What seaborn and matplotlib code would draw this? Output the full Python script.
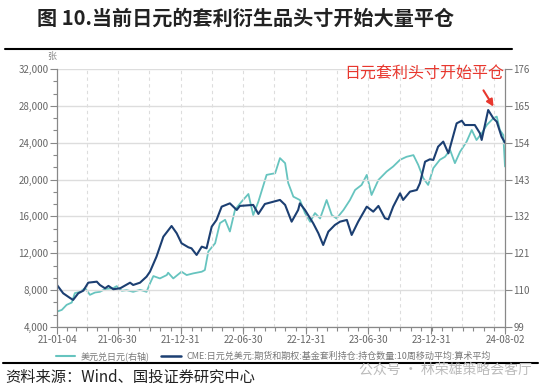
import pandas as pd
import seaborn as sns
import matplotlib.pyplot as plt
import matplotlib.dates as mdates
from matplotlib.lines import Line2D
from matplotlib.ticker import FuncFormatter, MultipleLocator, AutoMinorLocator

# USD/JPY (right axis)
usdjpy_dates = ['2021-01-04', '2021-01-18', '2021-02-01', '2021-02-16', '2021-02-25', '2021-03-12',
                '2021-03-27', '2021-04-10', '2021-04-25', '2021-05-09', '2021-05-24', '2021-06-17',
                '2021-06-27', '2021-07-12', '2021-07-26', '2021-08-14', '2021-09-03', '2021-09-22',
                '2021-10-02', '2021-10-12', '2021-10-31', '2021-11-20', '2021-11-24', '2021-12-09',
                '2022-01-02', '2022-01-17', '2022-02-05', '2022-03-02', '2022-03-11', '2022-03-21',
                '2022-04-10', '2022-04-24', '2022-05-09', '2022-05-23', '2022-06-07', '2022-06-26',
                '2022-07-16', '2022-07-30', '2022-08-14', '2022-09-07', '2022-10-02', '2022-10-16',
                '2022-10-31', '2022-11-09', '2022-11-24', '2022-12-13', '2022-12-28',
                '2023-01-12', '2023-01-26', '2023-02-10', '2023-03-01', '2023-03-16', '2023-03-30',
                '2023-04-19', '2023-05-08', '2023-05-23', '2023-06-11', '2023-06-26', '2023-07-10',
                '2023-07-30', '2023-08-23', '2023-09-11', '2023-10-01', '2023-10-20', '2023-11-09',
                '2023-11-23', '2023-12-08', '2023-12-22',
                '2024-01-06', '2024-01-25', '2024-02-09', '2024-02-24', '2024-03-09', '2024-03-24',
                '2024-04-12', '2024-04-27', '2024-05-11', '2024-05-26', '2024-06-10', '2024-06-29',
                '2024-07-09', '2024-07-18', '2024-07-28', '2024-08-02']
usdjpy = [103.6, 104.1, 105.6, 106.3, 109.1, 109.5, 110.6, 108.6, 109.3, 109.5, 110.3, 110.6,
          111.2, 109.8, 110.0, 109.5, 110.1, 109.5, 112.0, 114.2, 113.5, 114.5, 115.2, 113.5,
          115.5, 114.5, 115.0, 115.5, 116.0, 121.5, 124.0, 130.0, 131.0, 127.5, 134.0, 136.4,
          138.7, 132.4, 136.4, 144.4, 144.9, 149.4, 147.9, 142.0, 137.9, 136.9, 133.0,
          130.4, 133.0, 131.4, 136.9, 132.4, 131.4, 133.9, 136.9, 139.9, 141.4, 144.4, 138.4,
          142.9, 145.4, 146.9, 148.9, 149.8, 150.3, 147.4, 143.4, 141.4,
          146.4, 148.9, 149.8, 151.8, 147.9, 151.3, 154.3, 157.8, 154.8, 156.8, 159.3, 161.3,
          161.8, 157.8, 156.3, 146.9]

# CME yen carry positions, 10-week moving average (left axis, contracts)
cme_dates = ['2021-01-04', '2021-01-22', '2021-02-11', '2021-02-20', '2021-03-07', '2021-03-22',
             '2021-04-05', '2021-04-30', '2021-05-09', '2021-05-24', '2021-06-03', '2021-06-17',
             '2021-07-07', '2021-08-05', '2021-08-14', '2021-09-03', '2021-09-22', '2021-10-02',
             '2021-10-21', '2021-11-10', '2021-12-04', '2021-12-19',
             '2022-01-02', '2022-01-22', '2022-01-31', '2022-02-15', '2022-03-02', '2022-03-16',
             '2022-03-31', '2022-04-14', '2022-04-29', '2022-05-23', '2022-06-12', '2022-06-21',
             '2022-07-30', '2022-08-14', '2022-09-02', '2022-10-16', '2022-10-31', '2022-11-19',
             '2022-12-08', '2022-12-13', '2022-12-28',
             '2023-01-21', '2023-02-05', '2023-02-19', '2023-03-06', '2023-03-25', '2023-04-09',
             '2023-04-29', '2023-05-13', '2023-06-01', '2023-06-26', '2023-07-15', '2023-07-30',
             '2023-08-18', '2023-08-28', '2023-09-11', '2023-10-01', '2023-10-10', '2023-10-30',
             '2023-11-19', '2023-11-28', '2023-12-13', '2023-12-27',
             '2024-01-06', '2024-01-20', '2024-02-04', '2024-02-19', '2024-03-14', '2024-03-29',
             '2024-04-07', '2024-05-06', '2024-05-21', '2024-05-26', '2024-06-14', '2024-06-29',
             '2024-07-09', '2024-07-23', '2024-08-02']
cme = [8560, 7660, 7150, 6940, 7660, 7950, 8810, 8920, 8560, 8200, 8460, 8100,
       8200, 8810, 8560, 8810, 9460, 10000, 11630, 13800, 14960, 14170,
       13090, 12650, 12540, 11820, 12720, 12540, 14890, 15620, 17060, 17420, 16700, 17140,
       17250, 16270, 17350, 17790, 17250, 15430, 16700, 17420, 16700,
       15250, 14170, 12900, 14350, 15070, 15430, 15620, 13990, 15430, 17060, 16520, 17140,
       15800, 15690, 17060, 18510, 17790, 18690, 18870, 19600, 21940, 22200,
       22130, 23570, 24120, 22850, 26100, 26390, 25920, 25920, 25020, 24300, 27550, 26650,
       26280, 24650, 24000]

tick_dates = ['2021-01-04', '2021-06-30', '2021-12-31', '2022-06-30', '2022-12-31',
              '2023-06-30', '2023-12-31', '2024-08-02']

usdjpy_label = '美元兑日元(右轴)'
cme_label = 'CME:日元兑美元:期货和期权:基金套利持仓:持仓数量:10周移动平均:算术平均'

sns.set_style('white')
plt.rcParams['font.family'] = ['Noto Sans CJK SC', 'DejaVu Sans']

df_jpy = pd.DataFrame({'date': pd.to_datetime(usdjpy_dates), 'value': usdjpy})
df_cme = pd.DataFrame({'date': pd.to_datetime(cme_dates), 'value': cme})

teal = '#66c4bf'
navy = '#1c3f72'
tick_col = '#666666'
grid_col = '#dddddd'

fig = plt.figure(figsize=(5.5, 3.9), dpi=100)
ax = fig.add_axes([57 / 550, 1 - 327 / 390, 448 / 550, 258 / 390])
ax2 = ax.twinx()

sns.lineplot(data=df_jpy, x='date', y='value', ax=ax2, color=teal, linewidth=1.3, legend=False)
sns.lineplot(data=df_cme, x='date', y='value', ax=ax, color=navy, linewidth=1.5, legend=False)

# navy on top of teal
ax.set_zorder(ax2.get_zorder() + 1)
ax.patch.set_visible(False)

start, end = pd.Timestamp(tick_dates[0]), pd.Timestamp(tick_dates[-1])
ax.set_xlim(start, end)
ax.set_ylim(4000, 32000)
ax2.set_ylim(99, 176)

# grid: solid horizontal, dashed vertical at quarter ends
for v in range(4000, 32001, 4000):
    ax.axhline(v, color=grid_col, lw=1, zorder=0)
for q in pd.date_range('2021-03-31', '2024-06-30', freq='QE'):
    ax.axvline(q, color=grid_col, lw=0.8, ls=(0, (3, 3)), zorder=0)

ax.set_xticks(pd.to_datetime(tick_dates))
ax.xaxis.set_major_formatter(mdates.DateFormatter('%y-%m-%d'))
ax.xaxis.set_minor_locator(mdates.MonthLocator())
ax.yaxis.set_major_locator(MultipleLocator(4000))
ax.yaxis.set_minor_locator(AutoMinorLocator(3))
ax.yaxis.set_major_formatter(FuncFormatter(lambda v, p: f'{int(v):,}'))
ax2.set_yticks(range(99, 177, 11))

for a in (ax, ax2):
    a.set_xlabel('')
    a.set_ylabel('')
    a.tick_params(which='major', direction='out', length=5, width=0.8, color='#888888',
                  labelsize=7, labelcolor=tick_col, pad=1)
    a.tick_params(which='minor', direction='out', length=3, width=0.8, color='#888888')
    for s in a.spines.values():
        s.set_visible(False)
ax.tick_params(axis='x', which='both', bottom=True)
ax.tick_params(axis='y', which='both', left=True)
ax2.tick_params(axis='y', which='both', right=True)
ax.spines['left'].set_visible(True)
ax.spines['bottom'].set_visible(True)
ax2.spines['right'].set_visible(True)
for s in (ax.spines['left'], ax.spines['bottom'], ax2.spines['right']):
    s.set_color('#888888')
    s.set_linewidth(0.9)

# title and rules
fig.text(37 / 550, 1 - 18 / 390, '图 10.当前日元的套利衍生品头寸开始大量平仓',
         fontsize=14.5, fontweight='bold', color='#222222', va='center', ha='left')
fig.add_artist(Line2D([5 / 550, 512 / 550], [1 - 49 / 390] * 2, color='black', lw=1.5))
fig.text(52 / 550, 1 - 57 / 390, '张', fontsize=6.5, color='#888888', ha='center', va='center')

# annotation
fig.text(424 / 550, 1 - 73 / 390, '日元套利头寸开始平仓', fontsize=11.5, color='#e8372e',
         ha='center', va='center')
ax.annotate('', xy=(495 / 550, 1 - 109 / 390), xytext=(482 / 550, 1 - 88 / 390),
            xycoords='figure fraction', textcoords='figure fraction',
            arrowprops=dict(arrowstyle='-|>', color='#e8372e', lw=1.5, mutation_scale=10))

# legend
handles = [Line2D([], [], color=teal, lw=1.5), Line2D([], [], color=navy, lw=1.8)]
leg = fig.legend(handles, [usdjpy_label, cme_label], loc='center',
                 bbox_to_anchor=(273 / 550, 1 - 356 / 390), ncol=2, frameon=False,
                 fontsize=6.5, handlelength=2.2, columnspacing=1.2, handletextpad=0.6)
for t in leg.get_texts():
    t.set_color('#777777')

# footer
fig.add_artist(Line2D([3 / 550, 538 / 550], [1 - 363 / 390] * 2, color='black', lw=1.5))
fig.text(5 / 550, 1 - 377 / 390, '资料来源：Wind、国投证券研究中心', fontsize=11,
         color='#222222', ha='left', va='center', style='italic')
fig.text(532 / 550, 1 - 370 / 390, '公众号 · 林荣雄策略会客厅', fontsize=10,
         color='#bbbbbb', ha='right', va='center')

fig.savefig('out.png', dpi=100)
